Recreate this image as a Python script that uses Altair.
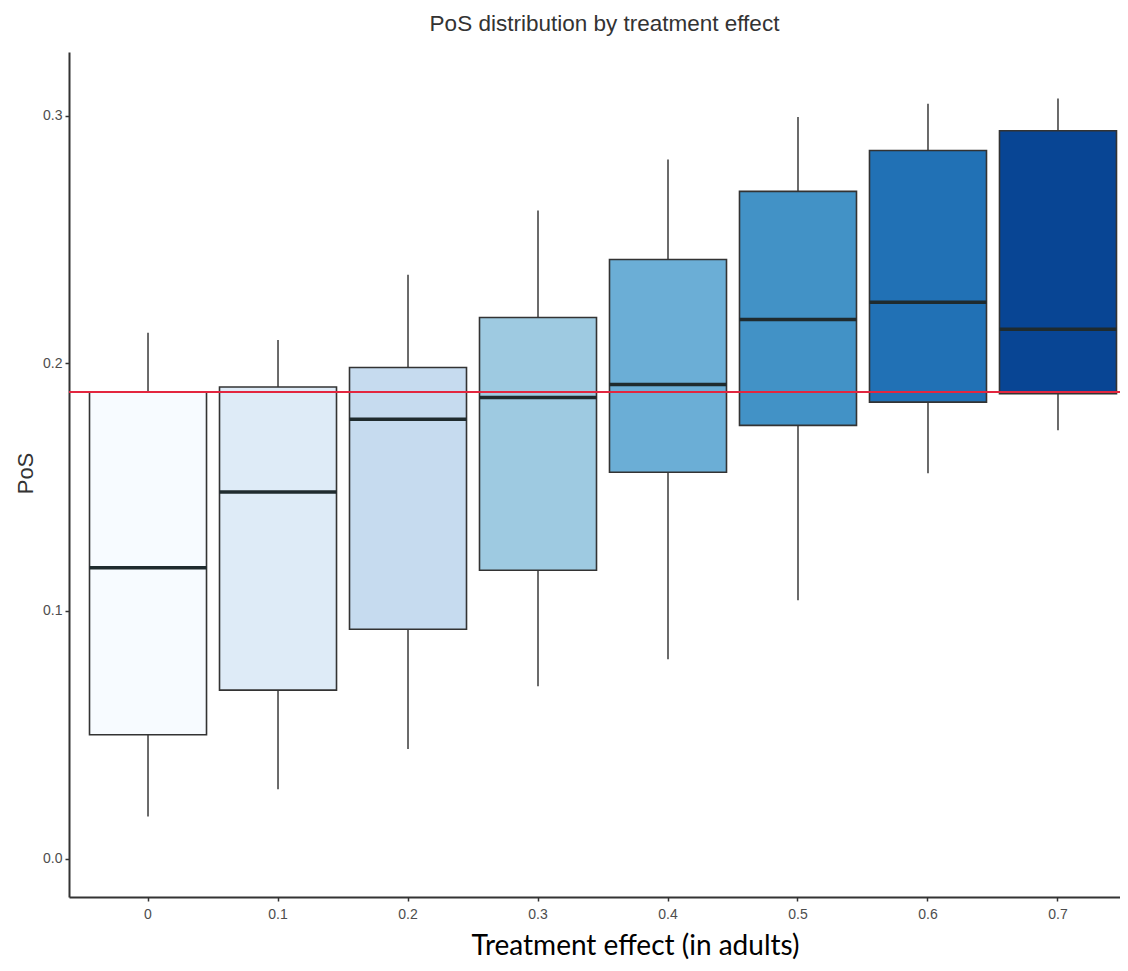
import altair as alt
import pandas as pd

effects = ["0", "0.1", "0.2", "0.3", "0.4", "0.5", "0.6", "0.7"]
whisker_low = [0.017, 0.028, 0.0442, 0.0696, 0.0805, 0.1043, 0.1556, 0.1729]
q1 = [0.050, 0.068, 0.0926, 0.1164, 0.156, 0.1749, 0.1843, 0.1877]
median = [0.1174, 0.148, 0.1774, 0.1862, 0.1914, 0.2177, 0.2246, 0.2137]
q3 = [0.1884, 0.1904, 0.1983, 0.2185, 0.2419, 0.2694, 0.2859, 0.2939]
whisker_high = [0.2123, 0.2094, 0.2357, 0.2617, 0.2823, 0.2995, 0.3048, 0.3069]
fill_colors = ["#f7fbff", "#deebf7", "#c6dbef", "#9ecae1",
               "#6baed6", "#4292c6", "#2171b5", "#084594"]
reference_pos = [0.1884]

df = pd.DataFrame({
    "effect": effects,
    "low": whisker_low,
    "q1": q1,
    "median": median,
    "q3": q3,
    "high": whisker_high,
})
ref_df = pd.DataFrame({"ref": reference_pos})

x_enc = alt.X(
    "effect:N",
    sort=effects,
    scale=alt.Scale(paddingInner=0.046, paddingOuter=0.0654, align=1),
    axis=alt.Axis(
        title="Treatment effect (in adults)",
        labelAngle=0,
        domainColor="#333333", domainWidth=2,
        tickColor="#333333", tickWidth=1.5, tickSize=4,
        labelFont="Liberation Sans", labelFontSize=14, labelColor="#4d4d4d",
        labelPadding=6,
        titleFont="Lato", titleFontSize=28, titleColor="#000000",
        titleFontWeight="normal",
        titleX=566, titleY=57, titleBaseline="alphabetic", titleAlign="center",
        grid=False,
    ),
)

y_scale = alt.Scale(domain=[-0.01554, 0.3257], nice=False, zero=False)
y_axis = alt.Axis(
    title="PoS",
    values=[0, 0.1, 0.2, 0.3],
    format=".1f",
    domainColor="#333333", domainWidth=2,
    tickColor="#333333", tickWidth=1.5, tickSize=4,
    labelFont="Liberation Sans", labelFontSize=14, labelColor="#4d4d4d",
    labelPadding=3,
    titleFont="Liberation Sans", titleFontSize=22, titleColor="#333333",
    titleFontWeight="normal", titleAngle=270,
    titleX=-44, titleY=421, titleBaseline="middle", titleAlign="center",
    grid=False,
)

base = alt.Chart(df)

whiskers = base.mark_rule(color="#3a3a3a", strokeWidth=1.5).encode(
    x=x_enc,
    y=alt.Y("low:Q", scale=y_scale, axis=y_axis),
    y2="high:Q",
)

boxes = base.mark_bar(size=117, stroke="#333333", strokeWidth=1.6).encode(
    x=alt.X("effect:N", sort=effects),
    y="q1:Q",
    y2="q3:Q",
    color=alt.Color("effect:N", scale=alt.Scale(domain=effects, range=fill_colors), legend=None),
)

medians = base.mark_tick(size=117, thickness=3.5, color="#1f2b2e", opacity=1).encode(
    x=alt.X("effect:N", sort=effects),
    y="median:Q",
)

ref_line = alt.Chart(ref_df).mark_rule(color="#e3263f", strokeWidth=2).encode(
    y="ref:Q",
)

chart = alt.layer(whiskers, boxes, medians, ref_line).properties(
    width=1051,
    height=845,
    padding={"left": 61, "top": 44, "right": 0, "bottom": 66},
    autosize=alt.AutoSizeParams(type="none"),
    title=alt.Title(
        "PoS distribution by treatment effect",
        font="Liberation Sans", fontSize=22.5, fontWeight="normal",
        color="#333333", anchor="middle", offset=17, dx=10,
    ),
).configure_view(stroke=None)

chart.save("out.html", embed_options={"renderer": "svg", "actions": False})
